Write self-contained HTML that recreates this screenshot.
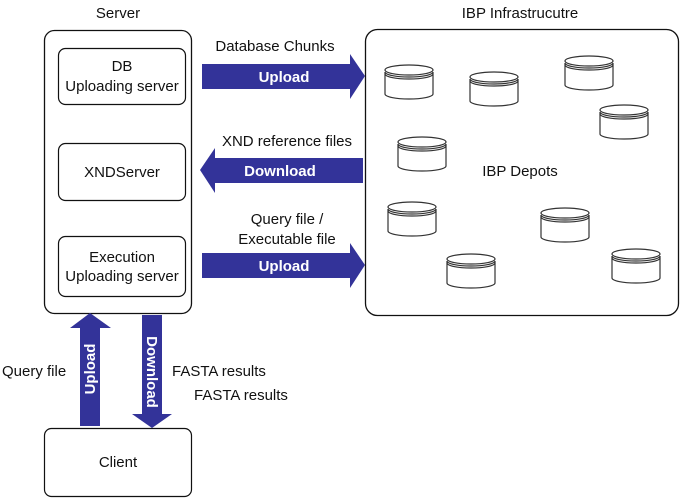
<!DOCTYPE html>
<html><head><meta charset="utf-8"><style>
body{margin:0;background:#fff;}
svg{display:block;font-family:"Liberation Sans",Arial,sans-serif;}
</style></head><body>
<svg width="685" height="498" viewBox="0 0 685 498" xmlns="http://www.w3.org/2000/svg">
<defs>
<g id="cyl" fill="#fff" stroke="#333" stroke-width="1.2">
<path d="M0,8 L0,30 A24,5 0 0 0 48,30 L48,8"/>
<ellipse cx="24" cy="6" rx="24" ry="5"/>
<path d="M0,8 A24,5 0 0 0 48,8 M0,10 A24,5 0 0 0 48,10" fill="none"/>
</g>
</defs>
<g font-size="15" fill="#111">
<text x="118" y="18" text-anchor="middle">Server</text>
<text x="520" y="18" text-anchor="middle">IBP Infrastrucutre</text>
</g>
<rect x="44.5" y="30.5" width="147" height="283" rx="10" fill="#fff" stroke="#111" stroke-width="1.3"/>
<rect x="365.5" y="29.5" width="313" height="286" rx="12" fill="#fff" stroke="#111" stroke-width="1.3"/>
<rect x="58.5" y="48.5" width="127" height="56" rx="7" fill="#fff" stroke="#111" stroke-width="1.2"/>
<rect x="58.5" y="143.5" width="127" height="57" rx="7" fill="#fff" stroke="#111" stroke-width="1.2"/>
<rect x="58.5" y="236.5" width="127" height="60" rx="7" fill="#fff" stroke="#111" stroke-width="1.2"/>
<rect x="44.5" y="428.5" width="147" height="68" rx="7" fill="#fff" stroke="#111" stroke-width="1.2"/>
<g font-size="15" fill="#111" text-anchor="middle">
<text x="122" y="71">DB</text>
<text x="122" y="91">Uploading server</text>
<text x="122" y="177">XNDServer</text>
<text x="122" y="262">Execution</text>
<text x="122" y="281">Uploading server</text>
<text x="118" y="467">Client</text>
<text x="275" y="51">Database Chunks</text>
<text x="287" y="146">XND reference files</text>
<text x="287" y="224">Query file /</text>
<text x="287" y="244">Executable file</text>
<text x="520" y="176">IBP Depots</text>
</g>
<g font-size="15" fill="#111">
<text x="2" y="376">Query file</text>
<text x="172" y="376">FASTA results</text>
<text x="194" y="400">FASTA results</text>
</g>
<g fill="#333399">
<polygon points="202,64 350,64 350,54 365,76 350,99 350,89 202,89"/>
<polygon points="363,158 215,158 215,148 200,170 215,193 215,183 363,183"/>
<polygon points="202,253 350,253 350,243 365,265 350,288 350,278 202,278"/>
<polygon points="80,426 80,328 70,328 90,313 111,328 100,328 100,426"/>
<polygon points="142,315 162,315 162,414 172,414 152,428 132,414 142,414"/>
</g>
<g font-size="15" font-weight="bold" fill="#fff" text-anchor="middle">
<text x="284" y="82">Upload</text>
<text x="280" y="176">Download</text>
<text x="284" y="271">Upload</text>
<text transform="translate(95,369) rotate(-90)">Upload</text>
<text transform="translate(147,372) rotate(90)">Download</text>
</g>
<use href="#cyl" x="385" y="64"/>
<use href="#cyl" x="470" y="71"/>
<use href="#cyl" x="565" y="55"/>
<use href="#cyl" x="600" y="104"/>
<use href="#cyl" x="398" y="136"/>
<use href="#cyl" x="388" y="201"/>
<use href="#cyl" x="541" y="207"/>
<use href="#cyl" x="447" y="253"/>
<use href="#cyl" x="612" y="248"/>
</svg>
</body></html>
